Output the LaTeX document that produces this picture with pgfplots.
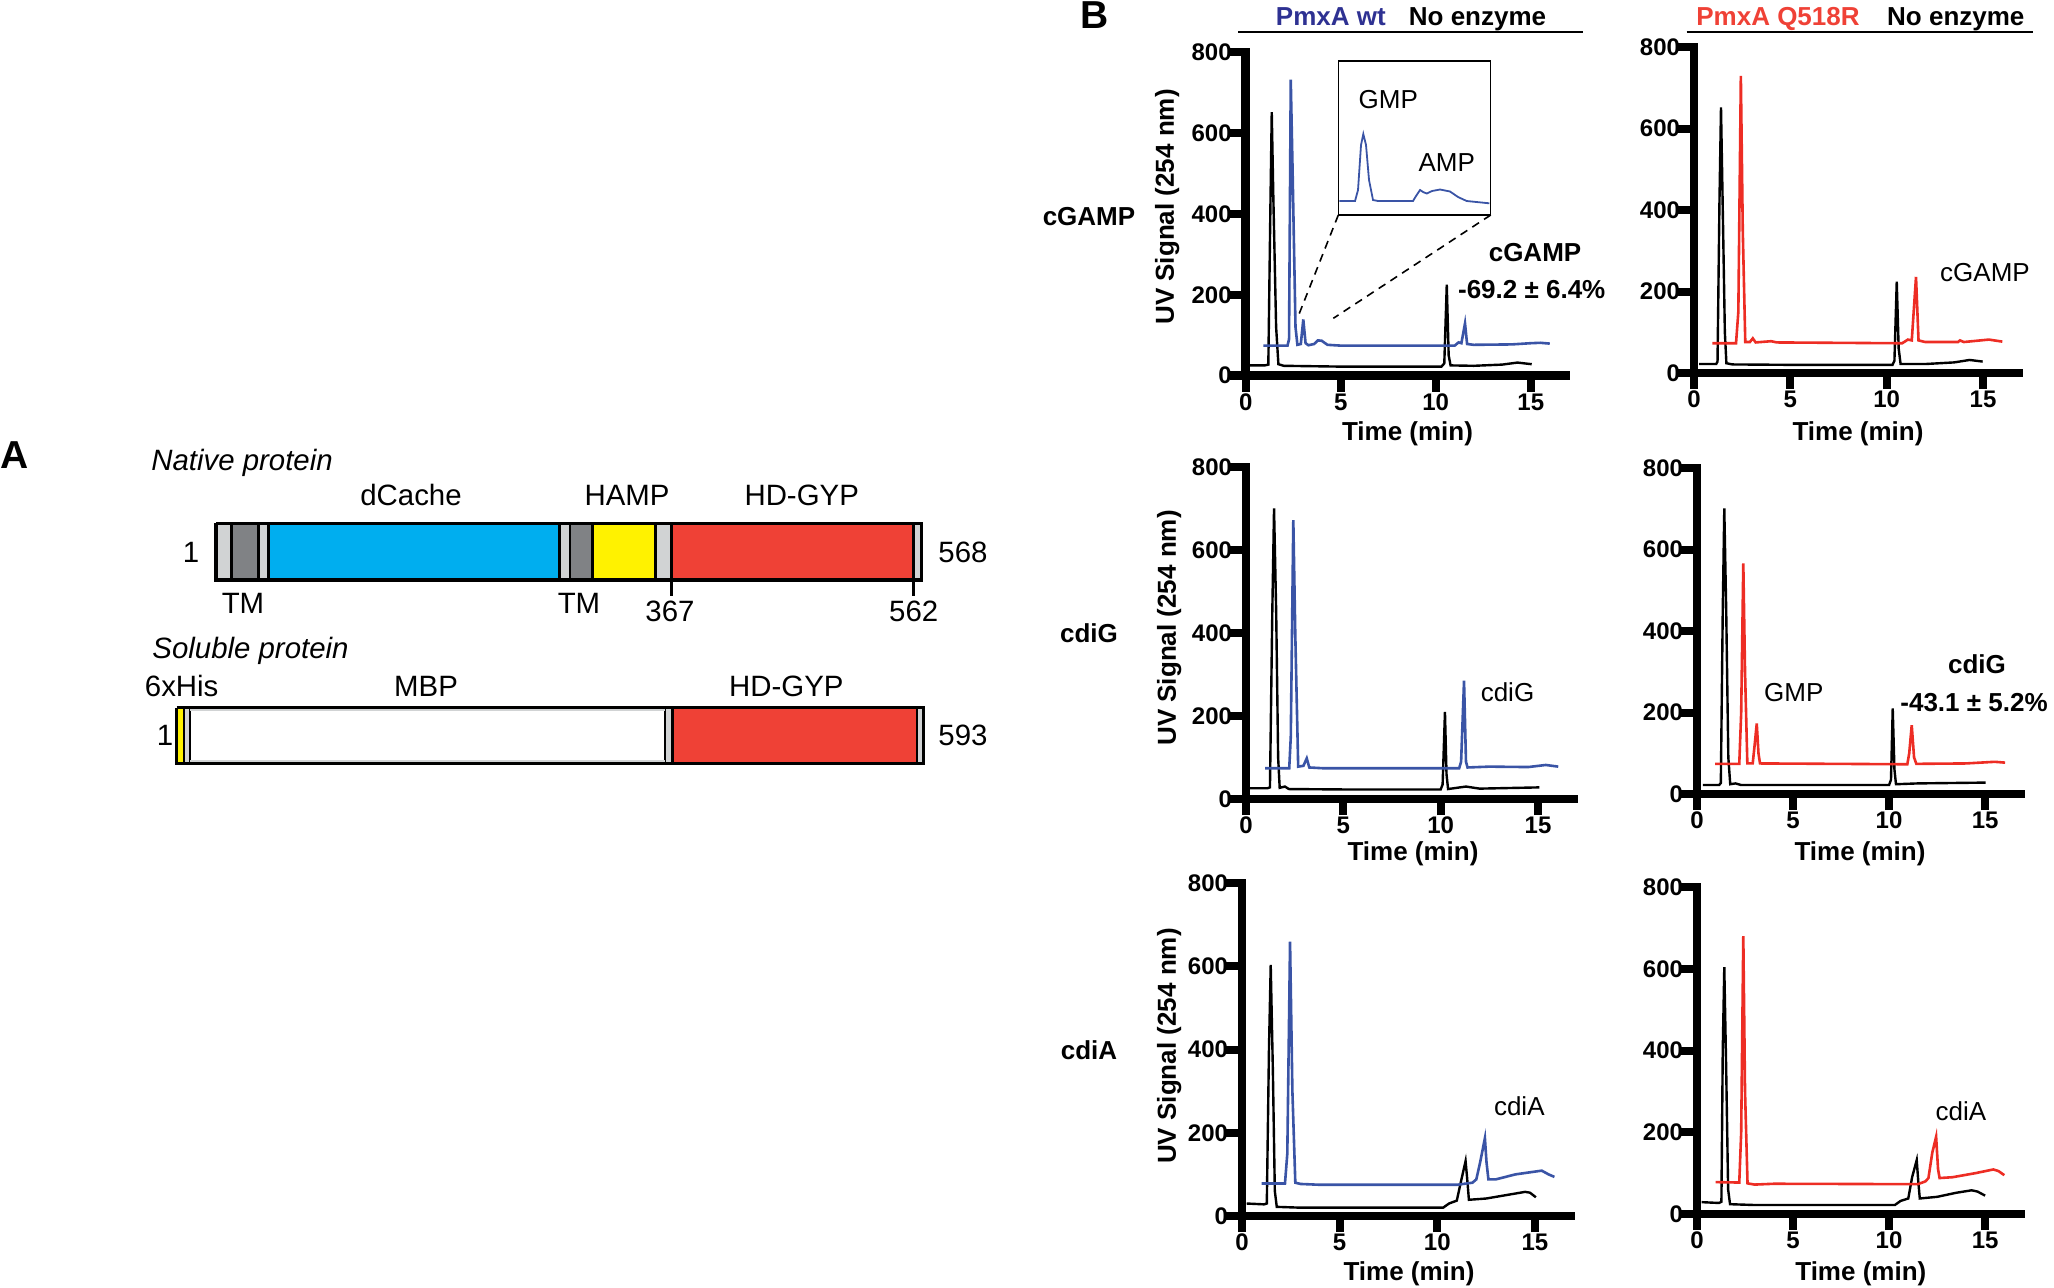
\documentclass[border=0pt]{standalone}
\usepackage{pgfplots}
\pgfplotsset{compat=1.18}
\usepackage{fontspec}
\setmainfont{Liberation Sans}
\definecolor{trblue}{RGB}{58,84,166}
\definecolor{trred}{RGB}{237,45,36}
\definecolor{hdblue}{RGB}{46,49,146}
\definecolor{hdred}{RGB}{239,65,54}
\definecolor{dcache}{RGB}{0,174,239}
\definecolor{hamp}{RGB}{255,242,0}
\definecolor{hdgyp}{RGB}{239,65,54}
\definecolor{dgray}{RGB}{128,130,133}
\definecolor{lgray}{RGB}{209,211,212}
\newcommand{\fA}{\fontsize{14.7}{16}\selectfont}
\newcommand{\fB}{\fontsize{13}{15}\selectfont}
\newcommand{\fBig}{\fontsize{19.5}{22}\selectfont\bfseries}
\pgfplotsset{
  chrom/.style={scale only axis, anchor=south west,
    xmin=0, xmax=16.85, ymin=0, ymax=800,
    axis x line=bottom, axis y line=left,
    axis line style={-, line width=4.4pt, line cap=rect},
    xtick={0,5,10,15}, ytick={0,200,400,600,800},
    tick align=outside, major tick length=8pt,
    tick style={line width=4pt, black},
    tick label style={font=\bfseries\fontsize{12}{14}\selectfont},
    yticklabel style={xshift=4.5pt},
    xticklabel style={yshift=2.5pt},
    /pgf/number format/assume math mode=true,
    clip=false},
  nb/.style={line width=1.2pt, black},
  bl/.style={line width=1.3pt, trblue},
  rd/.style={line width=1.3pt, trred},
}
\newcommand{\segN}[3]{\addplot[fill=#3, draw=none] coordinates {(#1,523.4) (#2,523.4) (#2,580) (#1,580)};}
\newcommand{\segS}[3]{\addplot[fill=#3, draw=none] coordinates {(#1,707.7) (#2,707.7) (#2,763.3) (#1,763.3)};}
\newcommand{\sepN}[2]{\addplot[black, line width=#2] coordinates {(#1,523.4) (#1,580)};}
\newcommand{\sepS}[2]{\addplot[black, line width=#2] coordinates {(#1,707.7) (#1,763.3)};}
\begin{document}
\begin{tikzpicture}
\useasboundingbox (0,0) rectangle (1027pt,-644pt);
% ---------------- canvas axis (pixel coordinates) ----------------
\begin{axis}[at={(0pt,0pt)}, anchor=north west, scale only axis,
  width=1027pt, height=644pt, xmin=0, xmax=2054, ymin=0, ymax=1288,
  y dir=reverse, hide axis, clip=false]
% Panel A : native protein
\segN{216}{231.7}{lgray}
\segN{231.7}{258.3}{dgray}
\segN{258.3}{268.7}{lgray}
\segN{268.7}{559.5}{dcache}
\segN{559.5}{570}{lgray}
\segN{570}{592.3}{dgray}
\segN{592.3}{655.7}{hamp}
\segN{655.7}{671.3}{lgray}
\segN{671.3}{913.7}{hdgyp}
\segN{913.7}{921.7}{lgray}
\sepN{231.7}{1.4pt}\sepN{258.3}{1.4pt}\sepN{268.7}{1.4pt}\sepN{559.5}{1.4pt}
\sepN{570}{1.4pt}\sepN{592.3}{1.4pt}\sepN{655.7}{1.4pt}\sepN{671.3}{1.4pt}\sepN{913.7}{1.4pt}
\addplot[black, line width=1.7pt] coordinates {(216,523.4) (921.7,523.4) (921.7,580) (216,580) (216,523.4)};
\addplot[black, line width=1.5pt] coordinates {(671,580) (671,596)};
\addplot[black, line width=1.5pt] coordinates {(913.5,580) (913.5,596)};
% Panel A : soluble protein
\segS{176.7}{183.5}{hamp}
\segS{184}{189}{lgray}
\segS{665.5}{671}{lgray}
\segS{672}{917}{hdgyp}
\segS{917}{923.3}{lgray}
\sepS{183.8}{0.9pt}\sepS{190}{1.2pt}\sepS{665}{0.9pt}\sepS{672}{1.5pt}\sepS{917}{1pt}
\addplot[lgray, line width=0.8pt] coordinates {(190,710) (665,710)};
\addplot[lgray, line width=0.8pt] coordinates {(190,761) (665,761)};
\addplot[black, line width=1.7pt] coordinates {(176.7,707.7) (923.3,707.7) (923.3,763.3) (176.7,763.3) (176.7,707.7)};
% Panel A text
\node[anchor=base, inner sep=0] at (axis cs:15,468) {\fBig A};
\node[anchor=base, inner sep=0] at (axis cs:242,470.7) {\fA\itshape Native protein};
\node[anchor=base, inner sep=0] at (axis cs:411,505) {\fA dCache};
\node[anchor=base, inner sep=0] at (axis cs:627,505) {\fA HAMP};
\node[anchor=base, inner sep=0] at (axis cs:801.7,505) {\fA HD-GYP};
\node[anchor=base, inner sep=0] at (axis cs:191,562) {\fA 1};
\node[anchor=base, inner sep=0] at (axis cs:963,562) {\fA 568};
\node[anchor=base, inner sep=0] at (axis cs:243,613) {\fA TM};
\node[anchor=base, inner sep=0] at (axis cs:579,613) {\fA TM};
\node[anchor=base, inner sep=0] at (axis cs:670,621) {\fA 367};
\node[anchor=base, inner sep=0] at (axis cs:913.7,621) {\fA 562};
\node[anchor=base, inner sep=0] at (axis cs:250.5,658.3) {\fA\itshape Soluble protein};
\node[anchor=base, inner sep=0] at (axis cs:181.7,696.7) {\fA 6xHis};
\node[anchor=base, inner sep=0] at (axis cs:426,696.7) {\fA MBP};
\node[anchor=base, inner sep=0] at (axis cs:786.3,696.7) {\fA HD-GYP};
\node[anchor=base, inner sep=0] at (axis cs:165,745.5) {\fA 1};
\node[anchor=base, inner sep=0] at (axis cs:963,745.5) {\fA 593};
% Panel B headers
\node[anchor=base west, inner sep=0] at (axis cs:1080,28) {\fBig B};
\node[anchor=base, inner sep=0, text=hdblue] at (axis cs:1330.8,25) {\fB\bfseries PmxA wt};
\node[anchor=base, inner sep=0] at (axis cs:1477.5,25) {\fB\bfseries No enzyme};
\addplot[black, line width=1pt] coordinates {(1238,32.3) (1583,32.3)};
\node[anchor=base, inner sep=0, text=hdred] at (axis cs:1778,25) {\fB\bfseries PmxA Q518R};
\node[anchor=base, inner sep=0] at (axis cs:1955.8,25) {\fB\bfseries No enzyme};
\addplot[black, line width=1pt] coordinates {(1686.7,32.3) (2033.3,32.3)};
% row labels
\node[anchor=base, inner sep=0] at (axis cs:1089,225) {\fB\bfseries cGAMP};
\node[anchor=base, inner sep=0] at (axis cs:1089,642.5) {\fB\bfseries cdiG};
\node[anchor=base, inner sep=0] at (axis cs:1089,1059.5) {\fB\bfseries cdiA};
% y labels
\node[rotate=90, inner sep=0] at (axis cs:1167.3,207) {\fB\bfseries UV Signal (254 nm)};
\node[rotate=90, inner sep=0] at (axis cs:1169.3,628) {\fB\bfseries UV Signal (254 nm)};
\node[rotate=90, inner sep=0] at (axis cs:1169.3,1046) {\fB\bfseries UV Signal (254 nm)};
% x labels
\node[anchor=base, inner sep=0] at (axis cs:1407.5,440.5) {\fB\bfseries Time (min)};
\node[anchor=base, inner sep=0] at (axis cs:1858,440.5) {\fB\bfseries Time (min)};
\node[anchor=base, inner sep=0] at (axis cs:1413,860.7) {\fB\bfseries Time (min)};
\node[anchor=base, inner sep=0] at (axis cs:1860,860.7) {\fB\bfseries Time (min)};
\node[anchor=base, inner sep=0] at (axis cs:1409,1280.7) {\fB\bfseries Time (min)};
\node[anchor=base, inner sep=0] at (axis cs:1860.8,1280.7) {\fB\bfseries Time (min)};
% annotations
\node[anchor=base, inner sep=0] at (axis cs:1535,261.7) {\fB\bfseries cGAMP};
\node[anchor=base west, inner sep=0] at (axis cs:1457.7,298.3) {\fB\bfseries -69.2 ± 6.4\%};
\node[anchor=base, inner sep=0] at (axis cs:1985,281.7) {\fB cGAMP};
\node[anchor=base, inner sep=0] at (axis cs:1507.5,701.7) {\fB cdiG};
\node[anchor=base, inner sep=0] at (axis cs:1793.7,701.7) {\fB GMP};
\node[anchor=base, inner sep=0] at (axis cs:1977,673.3) {\fB\bfseries cdiG};
\node[anchor=base west, inner sep=0] at (axis cs:1900,711.7) {\fB\bfseries -43.1 ± 5.2\%};
\node[anchor=base, inner sep=0] at (axis cs:1519.3,1115) {\fB cdiA};
\node[anchor=base, inner sep=0] at (axis cs:1961,1120) {\fB cdiA};
% inset
\addplot[black, line width=0.7pt] coordinates {(1338.3,61) (1490.7,61) (1490.7,215) (1338.3,215) (1338.3,61)};
\addplot[trblue, line width=0.9pt] coordinates {(1339.3,201) (1355,201) (1358,190) (1361,145) (1363.3,134) (1366,145) (1369,180) (1373,200) (1378,201) (1413,201) (1416,196) (1420,190) (1423,192) (1426.7,193.5) (1432,191) (1440,189.5) (1450,191.5) (1458,197) (1466.7,201) (1489.3,203.3)};
\node[anchor=base, inner sep=0] at (axis cs:1388.3,108.3) {\fB GMP};
\node[anchor=base, inner sep=0] at (axis cs:1446.7,171.7) {\fB AMP};
\addplot[black, line width=0.8pt, dash pattern=on 4pt off 3pt] coordinates {(1338.3,215) (1298,316.7)};
\addplot[black, line width=0.8pt, dash pattern=on 4pt off 3pt] coordinates {(1490.7,215) (1333.3,318.3)};
\end{axis}
% ---------------- chromatograms ----------------
% cGAMP, wt
\begin{axis}[chrom, at={(622.85pt,-187.75pt)}, width=160.1pt, height=161.5pt]
\addplot[nb] coordinates {(0.2,25) (1.0,25) (1.19,27) (1.3,420) (1.37,652) (1.45,450) (1.6,120) (1.72,28) (2.0,24) (5,22) (10.3,22) (10.45,30) (10.58,225) (10.68,50) (10.78,25) (12,24) (13.5,27) (14.3,32) (15.05,28)};
\addplot[bl] coordinates {(0.93,74) (2.2,74) (2.28,90) (2.37,733) (2.47,500) (2.62,120) (2.72,76) (2.9,78) (3.03,139) (3.15,80) (3.3,75) (3.6,78) (3.8,87) (4.0,86) (4.3,76) (5,74) (8,74) (11,74) (11.2,82) (11.35,80) (11.54,129) (11.65,78) (12,76) (14,77) (15,80) (15.5,81) (16.0,79)};
\end{axis}
% cGAMP, Q518R
\begin{axis}[chrom, at={(847pt,-186.5pt)}, width=162.35pt, height=163pt]
\addplot[nb] coordinates {(0.26,22) (1.15,22) (1.22,28) (1.32,420) (1.4,652) (1.5,380) (1.6,100) (1.68,24) (2.0,21) (5,20) (10.3,20) (10.4,30) (10.52,224) (10.62,60) (10.72,22) (12,22) (13.5,26) (14.3,32) (14.98,28)};
\addplot[rd] coordinates {(0.95,73) (2.18,73) (2.3,150) (2.43,729) (2.53,350) (2.66,76) (2.9,76) (3.05,85) (3.2,75) (4.0,78) (4.3,75) (10.8,73) (11.1,82) (11.3,80) (11.52,236) (11.65,80) (12,76) (13.7,76) (13.8,80) (14,76) (15.3,82) (16.0,77)};
\end{axis}
% cdiG, wt
\begin{axis}[chrom, at={(623pt,-399.5pt)}, width=164pt, height=166pt]
\addplot[nb] coordinates {(0.2,26) (1.1,26) (1.23,28) (1.35,450) (1.44,700) (1.55,450) (1.65,100) (1.73,27) (2.0,30) (2.2,24) (5,23) (10.0,23) (10.1,35) (10.22,210) (10.3,60) (10.38,24) (11.3,30) (12,25) (15.07,28)};
\addplot[bl] coordinates {(0.98,74) (2.22,74) (2.3,150) (2.43,672) (2.53,400) (2.68,78) (2.95,80) (3.12,98) (3.25,76) (4,74) (10.95,74) (11.05,90) (11.2,285) (11.3,90) (11.38,76) (12.5,78) (14.5,77) (15.4,82) (16.04,78)};
\end{axis}
% cdiG, Q518R
\begin{axis}[chrom, at={(848.5pt,-397pt)}, width=161.8pt, height=163pt]
\addplot[nb] coordinates {(0.3,22) (1.15,22) (1.24,27) (1.34,450) (1.42,701) (1.52,450) (1.63,90) (1.73,24) (2.0,26) (2.3,22) (10.0,22) (10.1,35) (10.19,210) (10.28,60) (10.36,24) (11.5,26) (15.03,28)};
\addplot[rd] coordinates {(0.94,74) (2.2,74) (2.3,200) (2.41,566) (2.5,300) (2.62,75) (2.9,75) (3.0,120) (3.11,173) (3.2,100) (3.28,75) (10.95,73) (11.05,100) (11.18,169) (11.3,90) (11.42,74) (14,75) (15.5,79) (16.04,77)};
\end{axis}
% cdiA, wt
\begin{axis}[chrom, at={(621pt,-608pt)}, width=164.5pt, height=166.5pt]
\addplot[nb] coordinates {(0.24,30) (1.13,28) (1.27,30) (1.38,400) (1.47,603) (1.58,350) (1.68,60) (1.78,22) (3,20) (10.3,20) (10.6,30) (11.0,37) (11.2,80) (11.45,132) (11.55,80) (11.62,39) (12.5,42) (13.5,50) (14.5,58) (14.75,56) (15.05,45)};
\addplot[bl] coordinates {(1.0,78) (2.2,78) (2.32,150) (2.46,659) (2.58,300) (2.73,80) (3.0,77) (4,75) (11,75) (11.8,80) (12.0,88) (12.2,130) (12.44,187) (12.52,130) (12.62,88) (13,88) (14,100) (15.35,109) (15.7,100) (16.0,94)};
\end{axis}
% cdiA, Q518R
\begin{axis}[chrom, at={(848.5pt,-607pt)}, width=161.8pt, height=163.5pt]
\addplot[nb] coordinates {(0.24,29) (1.15,27) (1.27,30) (1.34,400) (1.42,604) (1.52,350) (1.62,60) (1.72,24) (3,22) (10.3,22) (10.6,32) (11.0,38) (11.2,90) (11.44,132) (11.52,80) (11.6,38) (12.5,42) (13.5,52) (14.3,58) (14.6,55) (15.0,45)};
\addplot[rd] coordinates {(0.97,78) (2.2,77) (2.3,200) (2.41,680) (2.5,300) (2.63,75) (3,72) (4,74) (11.5,73) (11.9,80) (12.05,88) (12.25,150) (12.45,189) (12.55,110) (12.63,88) (13.3,90) (14.5,100) (15.43,109) (15.7,105) (16.0,95)};
\end{axis}
\end{tikzpicture}
\end{document}
